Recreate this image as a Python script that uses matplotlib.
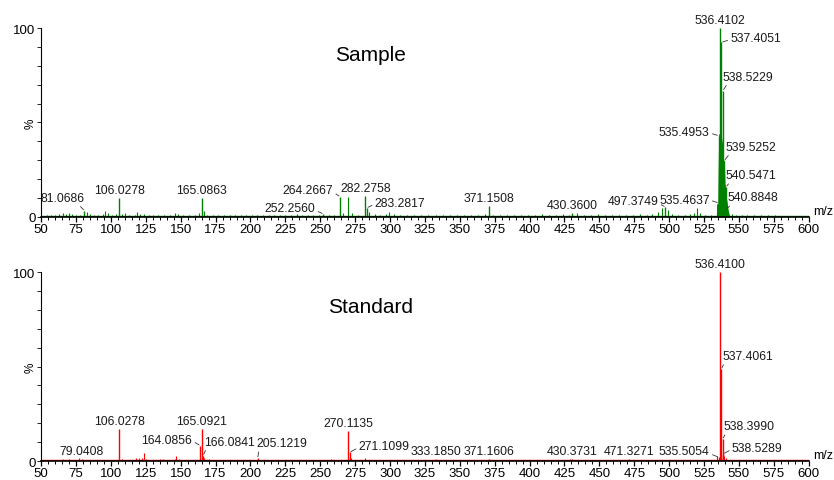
import numpy as np
import matplotlib.pyplot as plt
from matplotlib.ticker import MultipleLocator, FixedLocator

plt.rcParams['font.family'] = ['Liberation Sans', 'DejaVu Sans']

# ---- Sample spectrum (green) ----
sample_mz = [81.0686, 106.0278, 165.0863, 252.2560, 264.2667, 282.2758, 283.2817,
             371.1508, 430.3600, 497.3749, 535.4637, 535.4953, 536.4102, 537.4051,
             538.5229, 539.5252, 540.5471, 540.8848]
sample_int = [3.3, 9.9, 9.9, 1.6, 10.7, 11.3, 4.8, 5.7, 2.0, 5.3, 7.4, 43.0,
              100.0, 92.4, 66.8, 29.8, 15.8, 4.0]
# unlabelled small peaks
sample_small_mz = [54, 57, 60, 63, 66, 68, 70, 72, 75, 78, 83, 85, 88, 91, 94, 96, 98,
                   101, 104, 108, 110, 113, 117, 119, 121, 124, 127, 130, 134, 138, 142,
                   146, 148, 152, 156, 160, 163, 166.5, 169, 173, 177, 181, 185, 189,
                   193, 197, 201, 205, 209, 213, 217, 221, 225, 229, 233, 237, 241, 245,
                   249, 256, 260, 266, 269.9, 273, 277, 285, 289, 293, 297, 299, 303,
                   307, 312, 317, 322, 327, 333, 338, 343, 348, 353, 358, 363, 368, 374,
                   379, 384, 389, 394, 399, 404, 409, 414, 419, 424, 428, 434, 439, 444,
                   449, 454, 459, 464, 469, 474, 479, 484, 488, 492, 495, 499, 502, 506,
                   511, 515, 518, 520, 522, 526, 530, 545, 548, 552, 556, 561, 566, 571,
                   576, 582, 588, 594]
sample_small_int = [1.0, 1.2, 1.0, 1.5, 2.0, 1.6, 2.2, 1.5, 1.0, 1.2, 2.5, 1.5, 1.0, 1.2,
                    1.5, 3.2, 2.0, 1.0, 1.5, 1.5, 2.0, 1.2, 1.0, 2.5, 1.8, 1.5, 1.0, 1.0,
                    1.2, 1.0, 1.0, 2.0, 1.5, 1.0, 1.0, 1.0, 2.0, 3.0, 1.2, 1.0, 1.0, 1.0,
                    1.0, 1.2, 1.0, 1.0, 1.0, 1.0, 1.2, 1.0, 1.0, 1.0, 1.2, 1.0, 1.5, 1.0,
                    1.2, 1.0, 1.0, 1.2, 1.0, 2.0, 10.7, 2.0, 1.2, 2.5, 1.5, 1.0, 1.5, 2.5,
                    1.5, 1.0, 1.0, 1.2, 1.0, 1.0, 1.0, 1.0, 1.2, 1.0, 1.0, 1.0, 1.2, 1.5,
                    1.0, 1.0, 1.2, 1.0, 1.0, 1.0, 1.2, 1.5, 1.0, 1.2, 1.5, 1.0, 2.0, 1.0,
                    1.2, 1.5, 1.0, 1.2, 1.0, 1.0, 1.2, 1.5, 1.2, 1.5, 2.5, 4.5, 3.5,
                    1.5, 1.2, 1.0, 1.5, 2.0, 4.5, 2.0, 1.2, 1.0, 1.5, 1.2, 1.0, 1.0, 1.0,
                    0.8, 0.8, 0.8, 0.6, 0.6, 0.5]
# unresolved isotope cluster around 536
cluster_mz = [533.0, 533.8, 534.0, 534.8, 535.0, 535.5, 536.0, 536.5, 537.0, 537.5,
              538.0, 538.5, 539.0, 539.5, 540.0, 540.5, 541.0, 541.5, 542.0, 542.5,
              543.0, 543.5]
cluster_int = [0, 0, 7, 7, 20, 44, 44, 44, 44, 42, 40, 36, 30, 30, 18, 15, 10, 8, 5,
               3, 1.5, 0]

# ---- Standard spectrum (red) ----
standard_mz = [79.0408, 106.0278, 164.0856, 165.0921, 166.0841, 205.1219, 270.1135,
               271.1099, 333.1850, 371.1606, 430.3731, 471.3271, 535.5054, 536.4100,
               537.4061, 538.3990, 538.5289]
standard_int = [1.2, 16.9, 8.1, 16.9, 2.8, 1.5, 15.7, 4.6, 0.8, 0.8, 1.3, 0.8, 2.0,
                100.0, 48.7, 11.6, 3.7]
standard_small_mz = [55, 60, 66, 70, 77, 85, 90, 95, 100, 108, 115, 118, 120, 122,
                     123.5, 125, 130, 135, 137, 140, 146, 147, 149, 155, 160, 167, 170,
                     175, 180, 190, 210, 220, 230, 240, 250, 258, 272, 282, 290, 300,
                     310, 320, 345, 390, 410, 429, 450, 490, 510, 520, 534.5, 537.0,
                     539.5, 540.5, 560, 580]
standard_small_int = [0.5, 0.5, 1.0, 1.0, 1.5, 0.5, 0.5, 0.5, 0.5, 1.0, 0.5, 1.5, 1.5,
                      1.5, 4.2, 1.0, 0.5, 1.0, 1.0, 0.5, 1.0, 2.5, 1.0, 0.5, 0.5, 1.5,
                      1.0, 0.5, 0.5, 0.5, 0.5, 0.5, 0.5, 0.5, 0.5, 1.0, 1.5, 1.5, 0.5,
                      0.5, 0.5, 0.5, 0.5, 0.5, 0.5, 1.2, 0.5, 0.5, 0.5, 0.5, 2.5, 3.0,
                      2.5, 1.5, 0.5, 0.5]

# label placement: (dx px, dy px, ha, leader start relpos or None)
default_lab = (0, 8, 'center', None)
sample_lab = {
    81.0686: (-22, 13, 'center', (0.85, 0)),
    252.2560: (-8, 6, 'right', (1, 0.3)),
    264.2667: (-7, 7, 'right', (1, 0.3)),
    283.2817: (8, 5, 'left', (0, 0.4)),
    497.3749: (-7, 6, 'right', (1, 0.3)),
    535.4637: (-9, 3, 'right', (1, 0.5)),
    535.4953: (-9, 4, 'right', (1, 0.4)),
    537.4051: (9, 4, 'left', (0, 0.4)),
    538.5229: (0, 14, 'left', (0.1, 0)),
    539.5252: (1, 14, 'left', (0.1, 0)),
    540.5471: (0, 12, 'left', (0.1, 0)),
    540.8848: (1, 12, 'left', (0.1, 0)),
}
standard_lab = {
    164.0856: (-8, 6, 'right', (1, 0.4)),
    166.0841: (1, 14, 'left', (0.05, 0)),
    205.1219: (-1, 15, 'left', (0.05, 0)),
    271.1099: (9, 6, 'left', (0, 0.4)),
    535.5054: (-9, 6, 'right', (1, 0.3)),
    537.4061: (1, 13, 'left', (0.05, 0)),
    538.3990: (1, 13, 'left', (0.05, 0)),
    538.5289: (9, 6, 'left', (0, 0.4)),
}

fig = plt.figure(figsize=(8.34, 4.81), dpi=100)
ax1 = fig.add_axes([0.0493, 0.5468, 0.9204, 0.3929])
ax2 = fig.add_axes([0.0493, 0.0395, 0.9204, 0.3929])


def draw(ax, mz, inten, small_mz, small_int, labs, color, title, title_y):
    ax.axhline(0.4, color=color, lw=1.0, zorder=1)
    ax.vlines(small_mz, 0, small_int, color=color, lw=0.8)
    ax.vlines(mz, 0, inten, color=color, lw=1.0)
    for m, h in zip(mz, inten):
        dx, dy, ha, rp = labs.get(m, default_lab)
        kw = {}
        if rp is not None:
            kw['arrowprops'] = dict(arrowstyle='-', lw=0.6, color='#333333',
                                    shrinkA=0, shrinkB=1, relpos=rp)
        ax.annotate(f'{m:.4f}', (m, h), xytext=(dx, dy), textcoords='offset pixels',
                    ha=ha, va='center', fontsize=8.8, color='#1a1a1a',
                    annotation_clip=False, **kw)
    ax.set_xlim(50, 600)
    ax.set_ylim(0, 100)
    for s in ['top', 'right']:
        ax.spines[s].set_visible(False)
    ax.spines['left'].set_linewidth(0.8)
    ax.spines['bottom'].set_linewidth(1.2)
    ax.xaxis.set_major_locator(MultipleLocator(25))
    ax.xaxis.set_minor_locator(MultipleLocator(5))
    ax.yaxis.set_major_locator(FixedLocator([0, 100]))
    ax.yaxis.set_minor_locator(MultipleLocator(10))
    ax.tick_params(axis='x', which='major', length=3.5, width=0.9, pad=1, labelsize=9.5)
    ax.tick_params(axis='x', which='minor', length=2.2, width=0.7)
    ax.tick_params(axis='y', which='both', length=3, width=0.6, pad=1, labelsize=9.5)
    ax.text(-0.014, 0.5, '%', rotation=90, transform=ax.transAxes,
            ha='center', va='center', fontsize=8.5)
    ax.text(1.006, 0.03, 'm/z', transform=ax.transAxes, ha='left', va='center',
            fontsize=9)
    ax.text(286, title_y, title, ha='center', va='center', fontsize=15)


draw(ax1, sample_mz, sample_int, sample_small_mz, sample_small_int, sample_lab,
     '#008000', 'Sample', 86)
ax1.fill_between(cluster_mz, 0, cluster_int, color='#008000', lw=0)
draw(ax2, standard_mz, standard_int, standard_small_mz, standard_small_int,
     standard_lab, '#ff0000', 'Standard', 81.5)

fig.savefig('out.png', dpi=100)
